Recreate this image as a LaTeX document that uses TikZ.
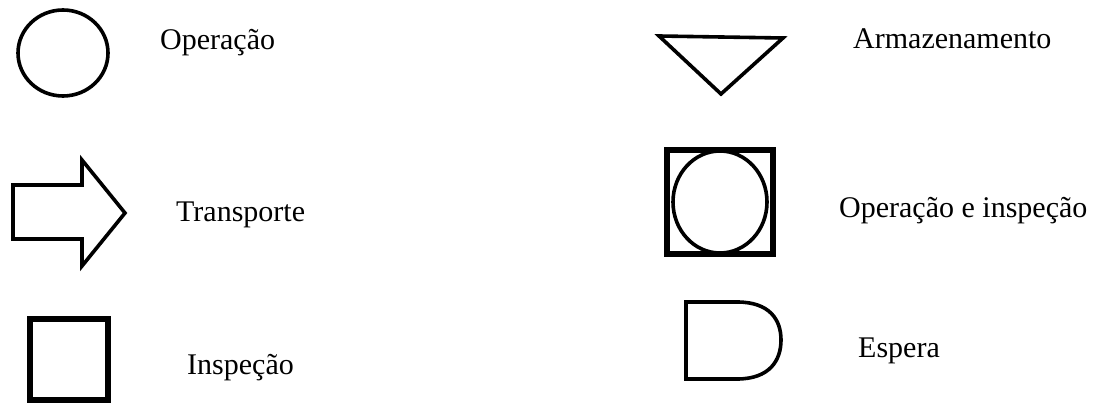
\documentclass[tikz,border=0pt]{standalone}
\usepackage{fontspec}
\setmainfont{Liberation Serif}
\begin{document}
\begin{tikzpicture}[x=1pt,y=-1pt,
  thin shape/.style={draw=black,line width=3.6pt},
  thick shape/.style={draw=black,line width=6pt},
  lbl/.style={anchor=base west,inner sep=0pt,font=\fontsize{30}{32}\selectfont}]
\useasboundingbox (0,0) rectangle (1106,403);
% Operacao
\draw[thin shape] (63,53) ellipse [x radius=45, y radius=43];
\node[lbl] (t1) at (160,50) {Operação};
% Transporte
\draw[thin shape,line join=miter] (13,185) -- (82,185) -- (82,160) -- (125,213) -- (82,266) -- (82,239) -- (13,239) -- cycle;
\node[lbl] (t2) at (176,222) {Transporte};
% Inspecao
\draw[thick shape] (30,319) rectangle (108,400);
\node[lbl] (t3) at (187,374) {Inspeção};
% Armazenamento
\draw[thin shape,line join=miter] (659,36) -- (783,38) -- (721,94) -- cycle;
\node[lbl] (t4) at (853,49) {Armazenamento};
% Operacao e inspecao
\draw[thick shape] (667,150) rectangle (773,254);
\draw[thin shape] (720,202) ellipse [x radius=47, y radius=51];
\node[lbl] (t5) at (839,218) {Operação e inspeção};
% Espera
\draw[thin shape] (737,302) -- (686,302) -- (686,379) -- (737,379)
  .. controls (770,379) and (781,360) .. (781,340)
  .. controls (781,320) and (770,302) .. (737,302) -- cycle;
\node[lbl] (t6) at (858,358) {Espera};
\end{tikzpicture}
\end{document}
